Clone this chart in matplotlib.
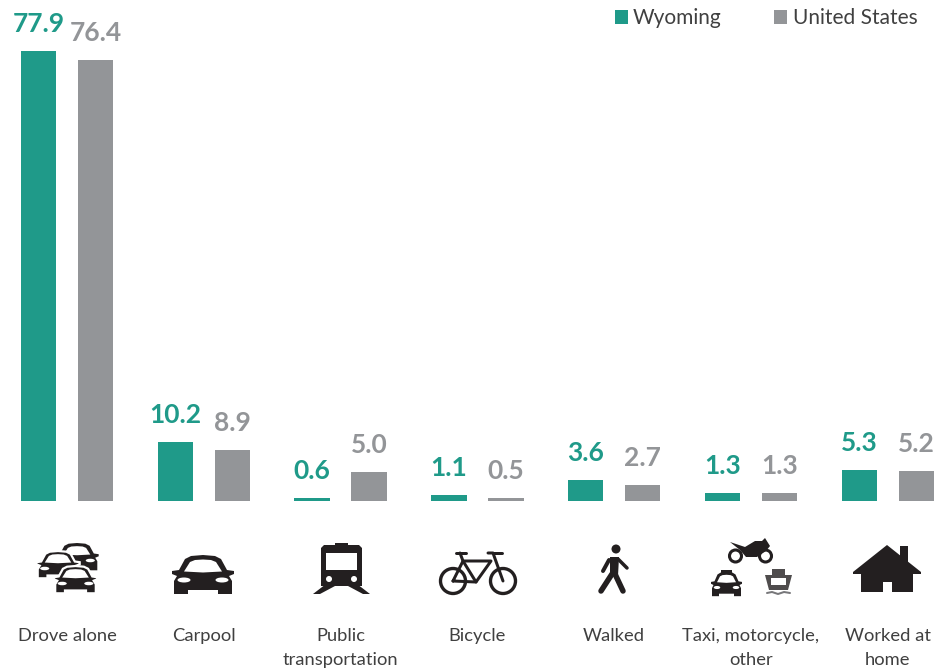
import matplotlib
matplotlib.use("Agg")
import numpy as np
import matplotlib.pyplot as plt
from matplotlib.patches import Polygon, Circle, Ellipse, Rectangle

categories = ["Drove alone", "Carpool", "Public\ntransportation", "Bicycle", "Walked",
              "Taxi, motorcycle,\nother", "Worked at\nhome"]
wyoming = [77.9, 10.2, 0.6, 1.1, 3.6, 1.3, 5.3]
united_states = [76.4, 8.9, 5.0, 0.5, 2.7, 1.3, 5.2]
series_names = ["Wyoming", "United States"]

TEAL = "#1f9a89"
GRAY = "#939598"
TEXT = "#404040"
ICON = "#231f20"
W, H = 937, 671

plt.rcParams["font.family"] = ["Lato", "Open Sans", "DejaVu Sans"]

fig = plt.figure(figsize=(W / 100, H / 100), dpi=100)

# bars: one x unit = one group, baseline sits at y=501px
step = 136.8
base_px = 501
ax = fig.add_axes([0, 1 - base_px / H, 1, base_px / H])
ax.set_xlim(-67 / step, (W - 67) / step)
ax.set_ylim(0, base_px / (450 / 77.9))
x = np.arange(len(categories))
bar_w = 35.5 / step
off = 28.5 / step
b1 = ax.bar(x - off, wyoming, bar_w, color=TEAL)
b2 = ax.bar(x + off, united_states, bar_w, color=GRAY)
for bars, vals, col in [(b1, wyoming, TEAL), (b2, united_states, GRAY)]:
    for r, v in zip(bars, vals):
        ax.annotate(f"{v:.1f}", (r.get_x() + r.get_width() / 2, v), xytext=(0, 13.7),
                    textcoords="offset points", ha="center", va="baseline",
                    fontsize=19, fontweight="bold", color=col)
ax.set_xticks(x, categories, fontsize=13.2, color=TEXT, linespacing=1.62)
ax.tick_params(axis="x", length=0, pad=91.5)
ax.set_yticks([])
for s in ax.spines.values():
    s.set_visible(False)
ax.patch.set_alpha(0)

# overlay in pixel coordinates for the legend and the icons
ov = fig.add_axes([0, 0, 1, 1])
ov.set_xlim(0, W)
ov.set_ylim(H, 0)
ov.axis("off")

for sx, tx, col, name in [(615, 633, TEAL, series_names[0]), (774, 793, GRAY, series_names[1])]:
    ov.add_patch(Rectangle((sx, 10), 13.5, 14, color=col, lw=0))
    ov.text(tx, 24, name, fontsize=15, color=TEXT, va="baseline", ha="left")


def car(cx, top, sx=1.0, sy=1.0, edge=None, z=3):
    """Front view car, 62x39 px at scale 1."""
    half = [(0, 0), (12, 1), (18, 4), (24, 15), (31, 16), (31, 19), (26, 21), (29, 26),
            (29, 39), (15, 39), (15, 35)]
    pts = half + [(-u, v) for u, v in half[::-1][:-1]]
    P = lambda p: [(cx + u * sx, top + v * sy) for u, v in p]
    ov.add_patch(Polygon(P(pts), fc=ICON, ec=edge or "none", lw=1.6 if edge else 0, zorder=z))
    win = [(-19, 16.5), (-13, 7), (-8, 5), (0, 4.5), (8, 5), (13, 7), (19, 16.5), (0, 17.5)]
    ov.add_patch(Polygon(P(win), fc="white", lw=0, zorder=z))
    for s in (-1, 1):
        ov.add_patch(Ellipse((cx + s * 19 * sx, top + 25 * sy), 13 * sx, 5 * sy, fc="white", lw=0, zorder=z))


def stroke(pts, lw_px, col=ICON, cap="round"):
    xs, ys = zip(*pts)
    ov.plot(xs, ys, color=col, lw=lw_px * 0.72, solid_capstyle=cap, solid_joinstyle="round", zorder=3)


# drove alone
car(77, 543, 0.7, 0.7, z=3)
car(58, 551, 0.7, 0.7, edge="white", z=4)
car(75.5, 566, 0.7, 0.7, edge="white", z=5)
# carpool
car(203, 555)
# train
ov.add_patch(Rectangle((335, 543), 13, 4, fc=ICON, lw=0))
ov.add_patch(Polygon([(321, 548), (324, 545), (359, 545), (362, 548), (362, 586), (321, 586)], fc=ICON, lw=0))
ov.add_patch(Rectangle((326, 553), 31, 17, fc="white", lw=0))
for c in (329, 354):
    ov.add_patch(Circle((c, 579), 3, fc="white", lw=0, zorder=3))
ov.add_patch(Polygon([(313, 594), (320, 594), (335, 586), (326, 584)], fc=ICON, lw=0))
ov.add_patch(Polygon([(370, 594), (363, 594), (348, 586), (357, 584)], fc=ICON, lw=0))
# bicycle
for c in (453, 503):
    ov.add_patch(Circle((c, 581), 12.5, fc="none", ec=ICON, lw=2.4, zorder=3))
stroke([(453, 581), (463, 561), (491, 561), (476, 582), (453, 581)], 3)
stroke([(460, 553), (463, 561), (476, 582)], 3)
stroke([(503, 581), (493, 553), (488, 553)], 3)
stroke([(456, 553), (466, 553)], 3)
stroke([(493, 553), (502, 553)], 3)
# walker
ov.add_patch(Circle((616, 549), 4.5, fc=ICON, lw=0))
ov.add_patch(Polygon([(610, 557), (619, 557), (618, 576), (610, 576)], fc=ICON, lw=0))
stroke([(612, 574), (601, 591)], 5.5)
stroke([(615, 574), (623, 591)], 5.5)
stroke([(609, 560), (603, 571)], 4)
stroke([(618, 559), (627, 568)], 3.5)
# motorcycle
for c in (735.5, 765.5):
    ov.add_patch(Circle((c, 556), 6, fc="none", ec=ICON, lw=2.2, zorder=3))
ov.add_patch(Polygon([(730, 542), (745, 547), (755, 541), (762, 541), (765, 538), (770, 546), (766, 551),
                      (757, 557), (746, 557), (740, 550)], fc=ICON, lw=0, zorder=4))
# taxi
ov.add_patch(Rectangle((721, 570), 11, 3, fc=ICON, lw=0))
car(726.5, 572, 0.5, 0.62)
# ferry
ov.add_patch(Rectangle((772, 569), 13, 6, fc=ICON, lw=0, alpha=0.8))
ov.add_patch(Polygon([(765, 575), (792, 575), (788, 590), (769, 590)], fc=ICON, lw=0, alpha=0.8))
ov.add_patch(Rectangle((771, 578), 15, 7, fc="white", lw=0, zorder=3))
stroke([(767, 593), (772, 592), (778, 594), (784, 592), (790, 593)], 2, col="#77777a")
# house
ov.add_patch(Rectangle((900, 546), 8, 20, fc=ICON, lw=0))
ov.add_patch(Polygon([(887, 545), (921, 572), (921, 574), (913, 574), (913, 592), (892, 592), (892, 582),
                      (883, 582), (883, 592), (861, 592), (861, 574), (853, 574), (853, 572)], fc=ICON, lw=0))

fig.savefig("out.png", dpi=100)
